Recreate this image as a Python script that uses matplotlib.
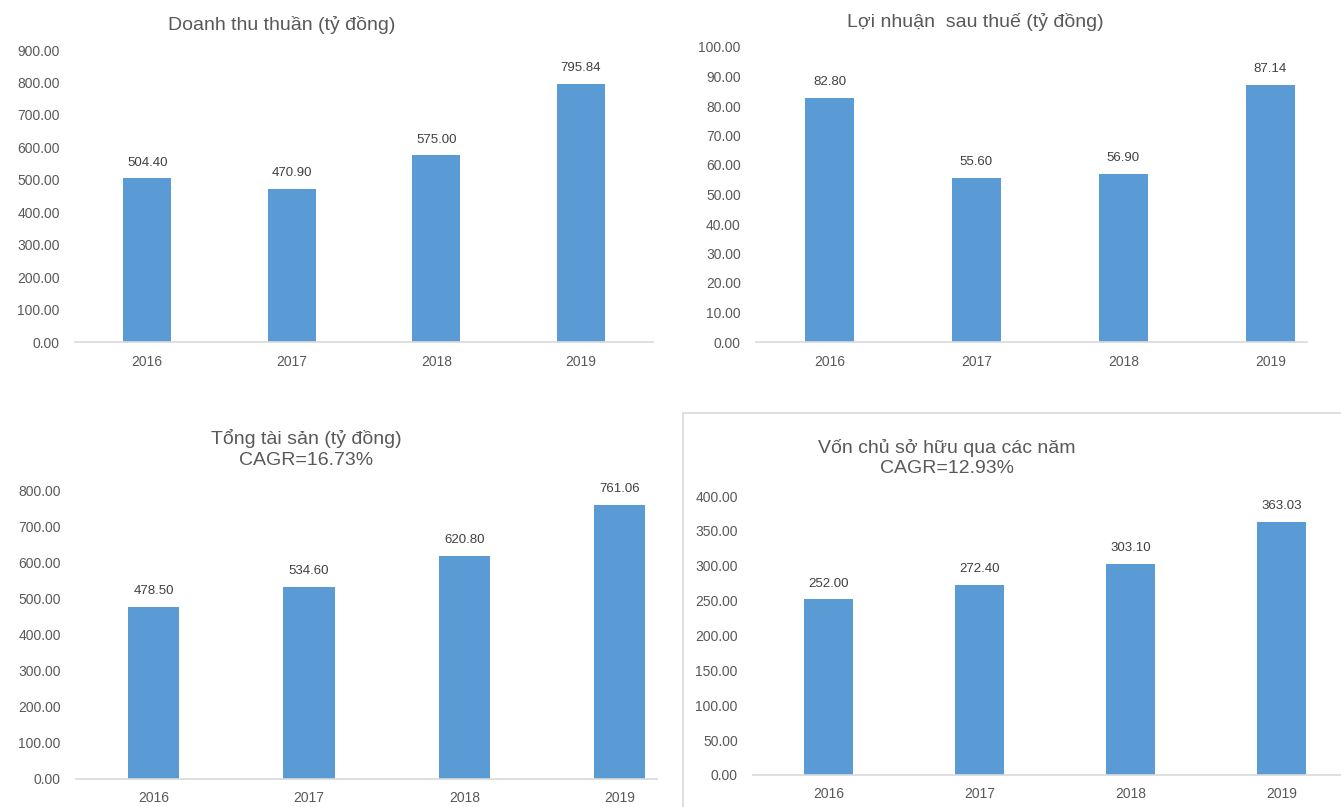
import matplotlib.pyplot as plt
from matplotlib.patches import Rectangle

plt.rcParams['font.family'] = ['Liberation Sans', 'DejaVu Sans']

# du lieu
nam = ['2016', '2017', '2018', '2019']
doanh_thu = [504.40, 470.90, 575.00, 795.84]
loi_nhuan = [82.80, 55.60, 56.90, 87.14]
tong_tai_san = [478.50, 534.60, 620.80, 761.06]
von_chu_so_huu = [252.00, 272.40, 303.10, 363.03]

W, H = 1341, 807
fig = plt.figure(figsize=(W / 100, H / 100), dpi=100)

mau_cot = '#5B9BD5'
mau_chu = '#595959'


def tao_truc(x0, x1, y0, y1):
    # toa do pixel -> toa do hinh
    return fig.add_axes([x0 / W, 1 - y0 / H, (x1 - x0) / W, (y0 - y1) / H])


def ve_cot(ax, gia_tri, ymax, buoc, xmax):
    x = range(len(nam))
    ax.bar(x, gia_tri, width=0.33, color=mau_cot, zorder=2)
    for i, v in enumerate(gia_tri):
        ax.annotate(f'{v:.2f}', (i, v), xytext=(0, 7), textcoords='offset points',
                    ha='center', va='bottom', fontsize=9.5, color='#404040')
    ax.set_xlim(-0.5, xmax)
    ax.set_ylim(0, ymax)
    ax.set_xticks(list(x))
    ax.set_xticklabels(nam)
    n = int(round(ymax / buoc)) + 1
    ax.set_yticks([buoc * k for k in range(n)])
    ax.set_yticklabels([f'{buoc * k:.2f}' for k in range(n)])
    ax.tick_params(axis='y', length=0, pad=11, labelsize=10, labelcolor=mau_chu)
    ax.tick_params(axis='x', length=0, pad=9, labelsize=10, labelcolor=mau_chu)
    for s in ['top', 'right', 'left']:
        ax.spines[s].set_visible(False)
    ax.spines['bottom'].set_color('#d9d9d9')
    ax.spines['bottom'].set_linewidth(1.2)
    ax.patch.set_alpha(0)


# khung bieu do von chu so huu
fig.patches.append(Rectangle((683 / W, -0.01), 1.01 - 683 / W, 1.01 - 413 / H,
                             transform=fig.transFigure, fill=False,
                             edgecolor='#d9d9d9', linewidth=1.2))

ax1 = tao_truc(75, 653, 342, 50)
ve_cot(ax1, doanh_thu, 900, 100, 3.5)
fig.text(282 / W, 1 - 25 / H, 'Doanh thu thuần (tỷ đồng)', ha='center', va='center',
         fontsize=14, color=mau_chu)

ax2 = tao_truc(756, 1307, 342, 47)
ve_cot(ax2, loi_nhuan, 100, 10, 3.25)
fig.text(975 / W, 1 - 22 / H, 'Lợi nhuận  sau thuế (tỷ đồng)', ha='center', va='center',
         fontsize=14, color=mau_chu)

ax3 = tao_truc(76, 657, 779, 491)
ve_cot(ax3, tong_tai_san, 800, 100, 3.24)
fig.text(306 / W, 1 - 449 / H, 'Tổng tài sản (tỷ đồng)\nCAGR=16.73%', ha='center',
         va='center', fontsize=14, color=mau_chu, linespacing=1.35)

ax4 = tao_truc(753, 1345, 775, 496)
ve_cot(ax4, von_chu_so_huu, 400, 50, 3.42)
fig.text(947 / W, 1 - 458 / H, 'Vốn chủ sở hữu qua các năm\nCAGR=12.93%', ha='center',
         va='center', fontsize=14, color=mau_chu, linespacing=1.2)

fig.savefig('out.png', dpi=100)
